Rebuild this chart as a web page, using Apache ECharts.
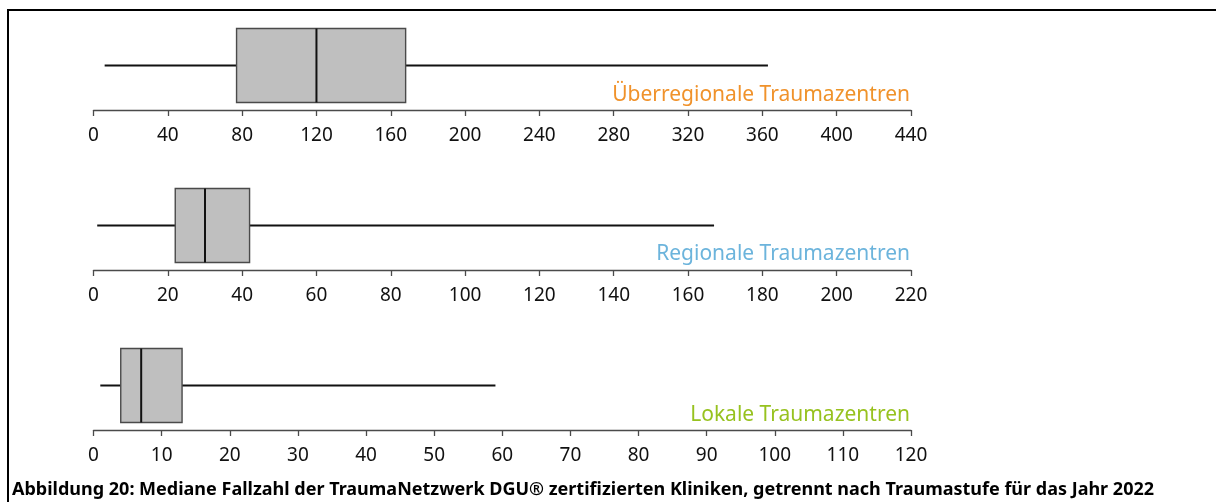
<!DOCTYPE html>
<html>
<head>
<meta charset="utf-8">
<script src="https://cdn.jsdelivr.net/npm/echarts@6/dist/echarts.min.js"></script>
<style>
  html, body { margin: 0; padding: 0; background: #ffffff; }
  #chart { width: 1216px; height: 502px; }
</style>
</head>
<body>
<div id="chart"></div>
<script>
// Trauma centre levels, top to bottom
const levels = ['Überregionale Traumazentren', 'Regionale Traumazentren', 'Lokale Traumazentren'];
const levelColors = ['#F0922B', '#6CB4DC', '#97C21F'];

// Case counts per clinic: [min, Q1, median, Q3, max]
const ueberregional = [6, 77, 120, 168, 363];
const regional = [1, 22, 30, 42, 167];
const lokal = [1, 4, 7, 13, 59];
const stats = [ueberregional, regional, lokal];

// Axis range and tick spacing per panel
const axisMax = [440, 220, 120];
const tickStep = [40, 20, 10];

const caption = 'Abbildung 20: Mediane Fallzahl der TraumaNetzwerk DGU® zertifizierten Kliniken, getrennt nach Traumastufe für das Jahr 2022';

const FONT = '"Noto Sans", sans-serif';
const axisY = [110, 270, 430];      // baseline of each panel's axis
const panelH = 89;

const chart = echarts.init(document.getElementById('chart'), null, { renderer: 'canvas' });

const grids = axisY.map(y => ({ left: 93.5, right: 305, top: y - panelH, height: panelH }));

const xAxes = axisMax.map((mx, i) => ({
  type: 'value', gridIndex: i, min: 0, max: mx, interval: tickStep[i],
  axisLine: { show: true, lineStyle: { color: '#4a4a4a', width: 1.3 } },
  axisTick: { show: true, length: 6, lineStyle: { color: '#4a4a4a', width: 1.3 } },
  axisLabel: { color: '#111111', fontFamily: FONT, fontSize: 19, margin: 16 },
  splitLine: { show: false }
}));

const yAxes = levels.map((name, i) => ({
  type: 'category', gridIndex: i, data: [name],
  axisLine: { show: false }, axisTick: { show: false }, axisLabel: { show: false },
  splitLine: { show: false }
}));

function renderBox(params, api) {
  const cat = api.value(0);
  const lo = api.coord([api.value(1), cat]);
  const q1 = api.coord([api.value(2), cat]);
  const med = api.coord([api.value(3), cat]);
  const q3 = api.coord([api.value(4), cat]);
  const hi = api.coord([api.value(5), cat]);
  const half = api.size([0, 1])[1] * 0.415;
  const cy = q1[1];
  return {
    type: 'group',
    children: [
      { type: 'line', shape: { x1: lo[0], y1: cy, x2: q1[0], y2: cy },
        style: { stroke: '#111111', lineWidth: 2 } },
      { type: 'line', shape: { x1: q3[0], y1: cy, x2: hi[0], y2: cy },
        style: { stroke: '#111111', lineWidth: 2 } },
      { type: 'rect', shape: { x: q1[0], y: cy - half, width: q3[0] - q1[0], height: half * 2 },
        style: { fill: '#BFBFBF', stroke: '#4a4a4a', lineWidth: 1.4 } },
      { type: 'line', shape: { x1: med[0], y1: cy - half, x2: med[0], y2: cy + half },
        style: { stroke: '#111111', lineWidth: 2 } }
    ]
  };
}

const series = stats.map((s, i) => ({
  type: 'custom', name: levels[i], xAxisIndex: i, yAxisIndex: i,
  renderItem: renderBox,
  encode: { x: [1, 2, 3, 4, 5], y: 0 },
  data: [[0].concat(s)],
  silent: true
}));

const graphics = [
  // frame lines at top and left
  { type: 'line', shape: { x1: 7.5, y1: 10, x2: 1216, y2: 10 }, style: { stroke: '#000', lineWidth: 2 } },
  { type: 'line', shape: { x1: 8, y1: 9, x2: 8, y2: 502 }, style: { stroke: '#000', lineWidth: 2 } },
  {
    type: 'text', left: 12, top: 481,
    style: { text: caption, fill: '#000', font: 'bold 18px "Noto Sans", sans-serif' }
  }
];

const labelY = [95, 254, 415];
levels.forEach((name, i) => {
  graphics.push({
    type: 'text', x: 910, y: labelY[i],
    style: { text: name, fill: levelColors[i], font: '21px "Noto Sans", sans-serif',
             align: 'right', verticalAlign: 'middle' }
  });
});

chart.setOption({
  backgroundColor: '#ffffff',
  animation: false,
  grid: grids,
  xAxis: xAxes,
  yAxis: yAxes,
  series: series,
  graphic: graphics
});
</script>
</body>
</html>
